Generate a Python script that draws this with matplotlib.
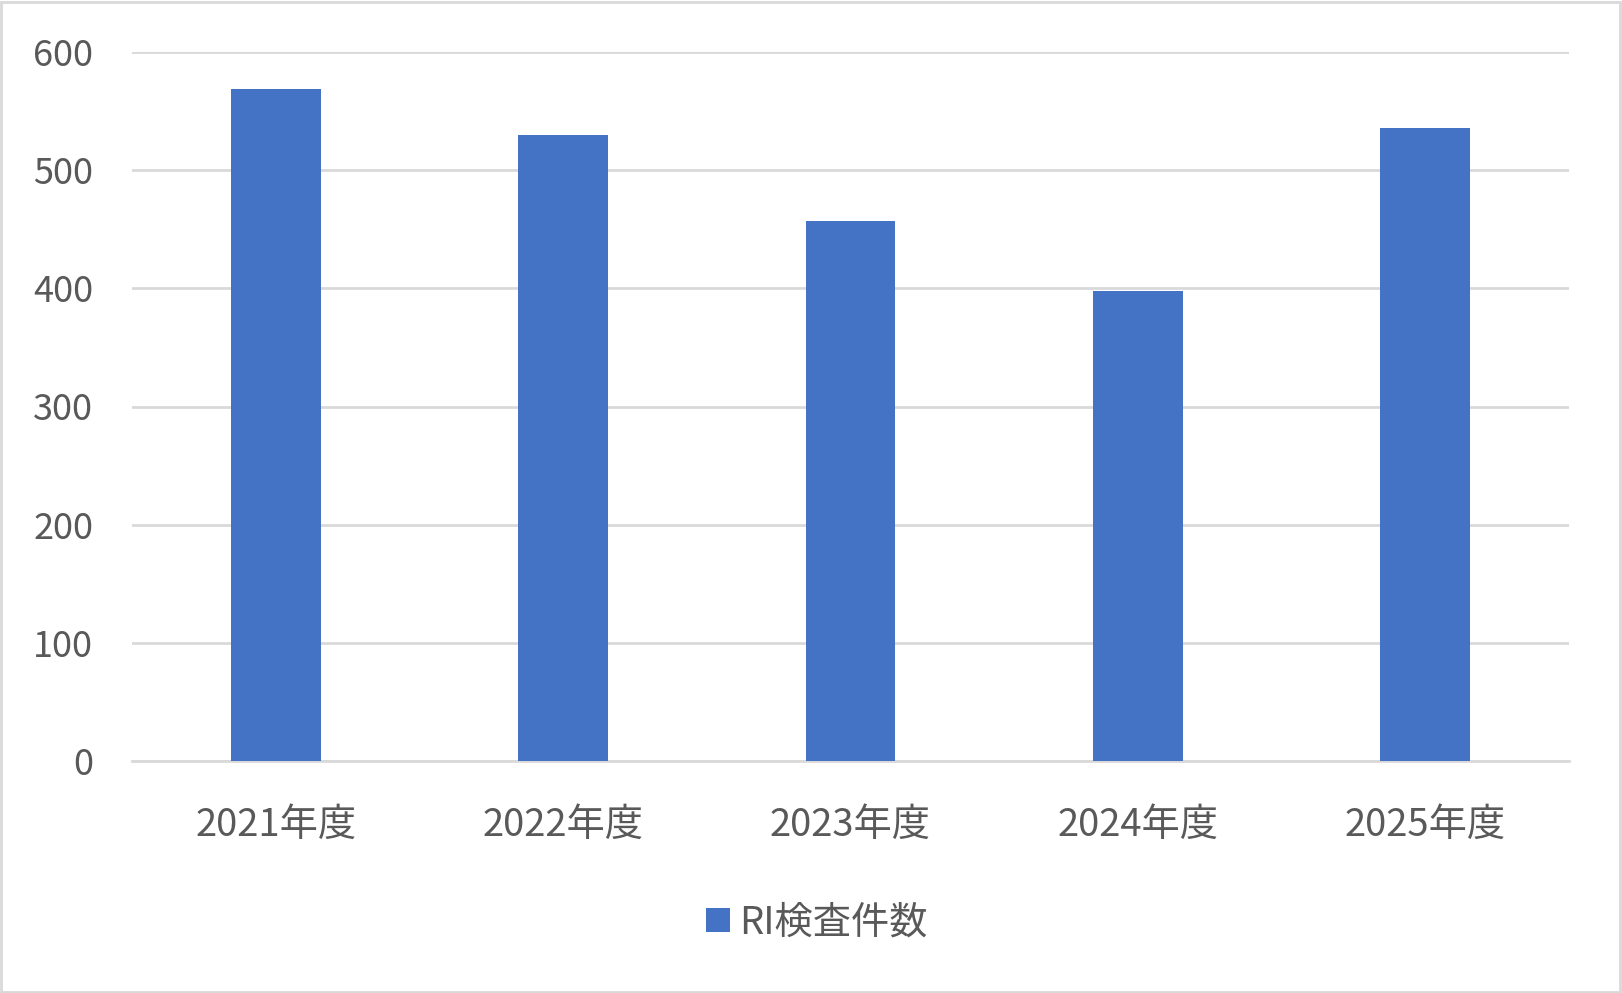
import matplotlib.pyplot as plt
from matplotlib.patches import Rectangle

plt.rcParams['font.family'] = ['Noto Sans CJK JP', 'DejaVu Sans']

years = ['2021年度', '2022年度', '2023年度', '2024年度', '2025年度']
counts = [569, 530, 457, 398, 536]
series_name = 'RI検査件数'
yticks = [0, 100, 200, 300, 400, 500, 600]

W, H = 1622, 993
fig = plt.figure(figsize=(W / 100, H / 100), dpi=100)
ax = fig.add_axes([132 / W, 1 - 761 / H, (1569 - 132) / W, (761 - 52) / H])

bars = ax.bar(range(len(years)), counts, width=0.313, color='#4472c4', zorder=3, label=series_name)
ax.set_xlim(-0.5, len(years) - 0.5)
ax.set_ylim(0, 600)
ax.set_yticks(yticks)
ax.set_xticks(range(len(years)))
ax.set_xticklabels(years)
ax.yaxis.grid(True, color='#d9d9d9', linewidth=2)
ax.set_axisbelow(True)
for s in ['top', 'right', 'left']:
    ax.spines[s].set_visible(False)
ax.spines['bottom'].set_color('#d9d9d9')
ax.spines['bottom'].set_linewidth(2)
ax.tick_params(axis='both', length=0, labelcolor='#595959')
ax.tick_params(axis='y', pad=28, labelsize=26)
ax.tick_params(axis='x', pad=32, labelsize=27.5)

leg = fig.legend(handles=[bars], labels=[series_name], loc='center', bbox_to_anchor=(817 / W, 1 - 923 / H),
                 frameon=False, fontsize=27.5, labelcolor='#595959', handlelength=0.62, handleheight=0.62,
                 handletextpad=0.25)

# outer border
fig.patches.append(Rectangle((1 / W, 1 / H), 1 - 3 / W, 1 - 3 / H, transform=fig.transFigure,
                             fill=False, edgecolor='#d9d9d9', linewidth=2))

fig.savefig('out.png', dpi=100)
